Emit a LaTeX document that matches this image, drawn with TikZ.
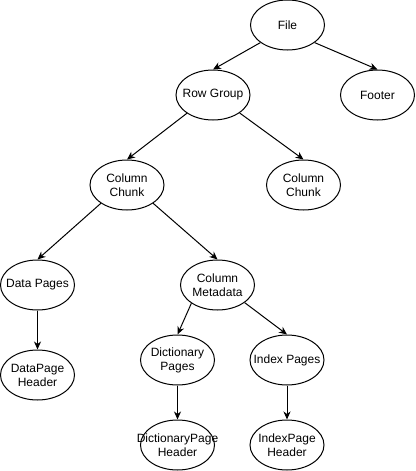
\documentclass[tikz,border=0pt]{standalone}
\usepackage{fontspec}
\setmainfont{Liberation Sans}
\usetikzlibrary{shapes.geometric,arrows.meta}
\begin{document}
\begin{tikzpicture}[x=1pt,y=-1pt,
  ell/.style={ellipse,draw,line width=1pt,minimum width=74pt,minimum height=50pt,inner sep=0pt},
  lbl/.style={font=\fontsize{12}{14}\selectfont,align=center,inner sep=0pt},
  arr/.style={line width=1pt,-{Stealth[length=8pt,width=7pt,inset=2.5pt]}}]
\useasboundingbox (0,0) rectangle (415,471);
% ellipses
\node[ell] (file) at (287.5,25) {};
\node[ell] (footer) at (377.5,95) {};
\node[ell] (rg) at (213,95) {};
\node[ell] (ccl) at (127,185) {};
\node[ell] (ccr) at (303.5,185) {};
\node[ell] (dp) at (37.5,285) {};
\node[ell] (cm) at (217.5,285) {};
\node[ell] (dph) at (37.5,375) {};
\node[ell] (dict) at (177.5,360) {};
\node[ell] (idx) at (287,360) {};
\node[ell] (dicth) at (177.5,445) {};
\node[ell] (idxh) at (287,445) {};
% labels
\node[lbl] (tfile) at (file) {File};
\node[lbl] (tfooter) at (footer) {Footer};
\node[lbl] (trg) at (rg) {Row Group};
\node[lbl] (tccl) at (ccl) {Column\\Chunk};
\node[lbl] (tccr) at (ccr) {Column\\Chunk};
\node[lbl] (tdp) at (dp) {Data Pages};
\node[lbl] (tcm) at (cm) {Column\\Metadata};
\node[lbl] (tdph) at (dph) {DataPage\\Header};
\node[lbl] (tdict) at (dict) {Dictionary\\Pages};
\node[lbl] (tidx) at (idx) {Index Pages};
\node[lbl] (tdicth) at (dicth) {DictionaryPage\\Header};
\node[lbl] (tidxh) at (idxh) {IndexPage\\Header};
% connectors
\draw[arr] (file.213) -- (rg.north);
\draw[arr] (file.327) -- (footer.north);
\draw[arr] (rg.215) -- (ccl.north);
\draw[arr] (rg.326) -- (ccr.north);
\draw[arr] (ccl.215) -- (dp.north);
\draw[arr] (ccl.325) -- (cm.north);
\draw[arr] (dp.south) -- (dph.north);
\draw[arr] (cm.215) -- (dict.north);
\draw[arr] (cm.327) -- (idx.north);
\draw[arr] (dict.south) -- (dicth.north);
\draw[arr] (idx.south) -- (idxh.north);
\end{tikzpicture}
\end{document}
